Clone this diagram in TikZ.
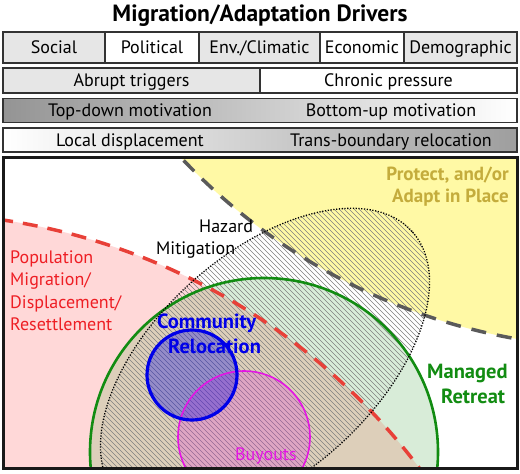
\documentclass[tikz,border=0pt]{standalone}
\usepackage{fontspec}
\setmainfont{PT Sans}
\definecolor{cellgray}{RGB}{230,230,230}
\definecolor{yellowfill}{RGB}{255,249,165}
\definecolor{pinkfill}{RGB}{255,216,216}
\definecolor{greenfill}{RGB}{216,236,216}
\definecolor{tanfill}{RGB}{221,207,186}
\definecolor{dashgray}{RGB}{90,90,90}
\definecolor{dashred}{RGB}{232,64,56}
\definecolor{retreatgreen}{RGB}{18,140,18}
\definecolor{relblue}{RGB}{0,0,232}
\definecolor{buymag}{RGB}{228,20,228}
\definecolor{protectolive}{RGB}{196,172,60}
\definecolor{popred}{RGB}{238,30,36}
\newcommand\myrowfont{\fontsize{18}{21}\selectfont}
\newcommand\mytitlefont{\fontsize{23.5}{27}\selectfont\bfseries}
\newcommand\mylabfont{\fontsize{18}{21}\selectfont}
\newcommand\mybigfont{\fontsize{20.5}{24}\selectfont\bfseries}
\newcommand\myolivefont{\fontsize{19}{22}\selectfont\bfseries}
\begin{document}
\begin{tikzpicture}[x=1pt,y=-1pt,
  box/.style={draw=black!80, line width=1.3pt, inner sep=0pt, outer sep=0pt},
  lbl/.style={anchor=base, inner sep=0pt, font=\myrowfont},
  lab/.style={anchor=base west, inner sep=0pt, font=\mylabfont},
  hatchline/.style={black!50, line width=0.38pt},
  graydash/.style={dashgray, line width=3.5pt, dash pattern=on 15pt off 11pt},
  reddash/.style={dashred, line width=3.5pt, dash pattern=on 15pt off 10pt},
  dotline/.style={black, line width=1.3pt, dash pattern=on 1.2pt off 1.6pt}]
\useasboundingbox (0,0) rectangle (520,474);

% title
\node[anchor=base, inner sep=0pt, font=\mytitlefont] (title) at (260,21) {Migration/Adaptation Drivers};

% row 1
\node[box, fill=cellgray, minimum width=102pt, minimum height=31pt] (social) at (54,47.5) {};
\node[box, fill=white, minimum width=94pt, minimum height=31pt] (political) at (152,47.5) {};
\node[box, fill=cellgray, minimum width=121pt, minimum height=31pt] (env) at (259.5,47.5) {};
\node[box, fill=white, minimum width=84pt, minimum height=31pt] (econ) at (362,47.5) {};
\node[box, fill=cellgray, minimum width=113pt, minimum height=31pt] (demo) at (460.5,47.5) {};
\node[lbl] (tsocial) at (54,53.5) {Social};
\node[lbl] (tpolitical) at (152,53.5) {Political};
\node[lbl] (tenv) at (259.5,53.5) {Env./Climatic};
\node[lbl] (tecon) at (362,53.5) {Economic};
\node[lbl] (tdemo) at (460.5,53.5) {Demographic};

% row 2
\node[box, fill=cellgray, minimum width=257pt, minimum height=25pt] (abrupt) at (131.5,80.5) {};
\node[box, fill=white, minimum width=257pt, minimum height=25pt] (chronic) at (388.5,80.5) {};
\node[lbl] (tabrupt) at (131.5,86.5) {Abrupt triggers};
\node[lbl] (tchronic) at (388.5,86.5) {Chronic pressure};

% row 3
\node[box, left color=black!42, right color=white, minimum width=514pt, minimum height=23.5pt] (motiv) at (260,110.5) {};
\node[lbl] (ttop) at (130,116.9) {Top-down motivation};
\node[lbl] (tbottom) at (391,116.9) {Bottom-up motivation};

% row 4
\node[box, left color=white, right color=black!38, minimum width=514pt, minimum height=24pt] (scale) at (260,140) {};
\node[lbl] (tlocal) at (130,146.8) {Local displacement};
\node[lbl] (ttrans) at (391,146.8) {Trans-boundary relocation};

% main panel
\begin{scope}
\clip (3,157.5) rectangle (517.5,468.5);
\fill[white] (3,157.5) rectangle (517.5,468.5);
\fill[yellowfill] (622,-258) circle[radius=606pt];
\fill[pinkfill] (-92,853) circle[radius=640pt];
\fill[greenfill] (264,452) circle[radius=174pt];
\begin{scope}
\clip (-92,853) circle[radius=640pt];
\fill[tanfill] (264,452) circle[radius=174pt];
\end{scope}
% hatching of hazard mitigation
\begin{scope}
\clip[rotate around={42:(265,364)}] (265,364) ellipse[x radius=198pt, y radius=110pt];
\foreach \k in {-450,-445,...,262} \draw[hatchline] (\k+150,150) -- (\k+550,550);
\end{scope}
% buyouts and relocation fills
\fill[buymag, opacity=0.22] (244,437) circle[radius=66pt];
\fill[relblue, opacity=0.32] (192,375) circle[radius=45pt];
% boundaries
\draw[graydash] (622,-258) circle[radius=606pt];
\draw[reddash] (-92,853) circle[radius=640pt];
\draw[retreatgreen, line width=2.6pt] (264,452) circle[radius=174pt];
\draw[buymag, line width=1.6pt] (244,437) circle[radius=66pt];
\draw[relblue, line width=3.2pt] (192,375) circle[radius=45pt];
\draw[dotline, rotate around={42:(265,364)}] (265,364) ellipse[x radius=198pt, y radius=110pt];
\end{scope}

% labels
\node[anchor=base east, inner sep=0pt, font=\myolivefont, text=protectolive] (protect1) at (509,180) {Protect, and/or};
\node[anchor=base east, inner sep=0pt, font=\myolivefont, text=protectolive] (protect2) at (509,202) {Adapt in Place};
\node[lab] (hazard) at (199,232) {Hazard};
\node[lab] (mitig) at (156,254) {Mitigation};
\node[lab, text=popred] (pop1) at (10,263) {Population};
\node[lab, text=popred] (pop2) at (10,285.5) {Migration/};
\node[lab, text=popred] (pop3) at (10,308) {Displacement/};
\node[lab, text=popred] (pop4) at (10,330) {Resettlement};
\node[lab, font=\mybigfont, text=relblue] (comm1) at (157,328) {Community};
\node[lab, font=\mybigfont, text=relblue] (comm2) at (168,353) {Relocation};
\node[lab, font=\mybigfont, text=retreatgreen] (mr1) at (427,378) {Managed};
\node[lab, font=\mybigfont, text=retreatgreen] (mr2) at (441,403) {Retreat};
\node[lab, text=buymag] (buy) at (235,460) {Buyouts};

% frame
\draw[black!90, line width=3pt] (3,157.5) rectangle (517.5,468.5);
\end{tikzpicture}
\end{document}
